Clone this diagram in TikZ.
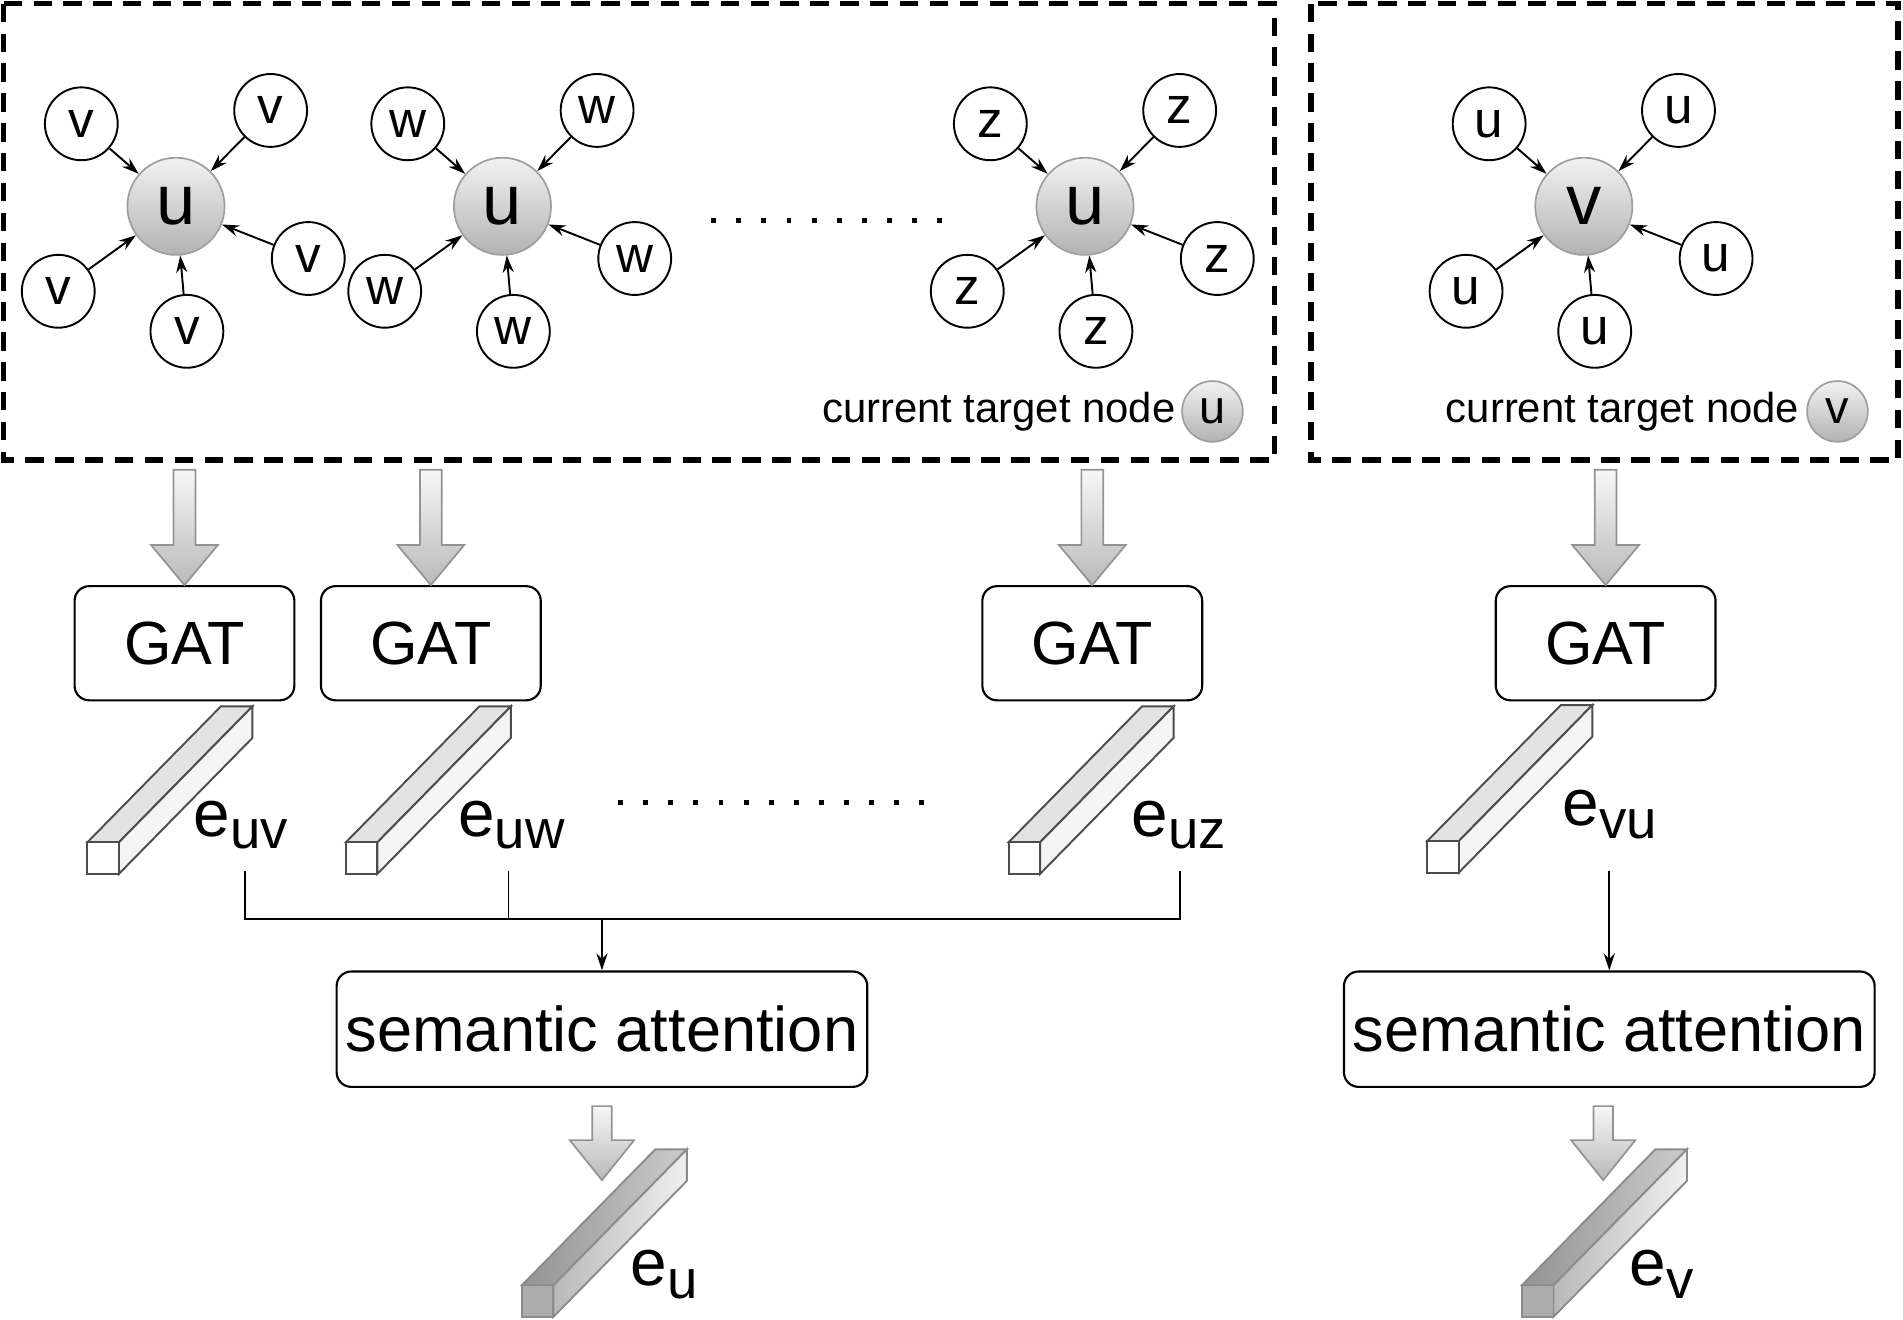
\documentclass[tikz,border=0pt]{standalone}
\usepackage{fontspec}
\setmainfont{Liberation Sans}
\usetikzlibrary{arrows.meta,calc,positioning}

% tailles de police
\newcommand{\taille}[1]{\fontsize{#1}{#1}\selectfont}
\newcommand{\esub}[1]{e\raisebox{-0.105cm}{\taille{12.8}#1}}

% voisinage : nom, x du centre, lettre du centre, lettre des voisins
\newcommand{\voisinage}[4]{%
    \node[cible] (#1) at (#2,170) {#3};
    \foreach \dx/\dy [count=\i] in {-78/-68, 78/-79, -97/70, 9/103, 109/43} {
        \node[voisin] (#1-\i) at ({#2+\dx},{170+\dy}) {#4};
        \draw[fleche, ->] (#1-\i) -- (#1);
    }%
}

% grosse fleche grise : pointe, longueur, demi-tige, demi-tete
\newcommand{\blocfleche}[4]{%
    \shade[bloc] ($(#1)+(-#3,-#2)$) -- ($(#1)+(#3,-#2)$) -- ($(#1)+(#3,-33)$)
        -- ($(#1)+(#4,-33)$) -- (#1) -- ($(#1)+(-#4,-33)$) -- ($(#1)+(-#3,-33)$) -- cycle;%
}

% barre d'embedding : x, y du coin avant, teinte
\newcommand{\embbar}[3]{%
    \path[#3 top] (#1,#2) -- ++(26,0) -- ++(110,-112) -- ++(-26,0) -- cycle;
    \path[#3 side] ({#1+26},#2) -- ++(0,26) -- ++(110,-112) -- ++(0,-26) -- cycle;
    \path[#3 front] (#1,#2) rectangle ++(26,26);%
}

\begin{document}
\begin{tikzpicture}[x=0.01cm, y=-0.01cm, >={Stealth[length=4pt, width=2.6pt]},
    zone/.style={draw, line width=1.3pt, dash pattern=on 4.3pt off 2.7pt},
    cible/.style={circle, draw=gray!75, top color=gray!10, bottom color=gray!60,
        minimum size=0.8cm, inner sep=0pt, font=\taille{16.5}},
    voisin/.style={circle, draw, line width=0.45pt, minimum size=0.6cm, inner sep=0pt, font=\taille{12}},
    fleche/.style={line width=0.45pt},
    boite/.style={draw, rounded corners=0.12cm, line width=0.5pt, inner sep=0pt},
    gat/.style={boite, minimum width=1.81cm, minimum height=0.94cm, font=\taille{14.3}},
    sem/.style={boite, minimum width=4.37cm, minimum height=0.95cm, font=\taille{14.8}},
    bloc/.style={draw=gray!85, line width=0.4pt, top color=gray!6, bottom color=gray!55},
    legende/.style={inner sep=0pt, font=\taille{9.8}},
    emb/.style={inner sep=0pt, anchor=base west, font=\taille{15.4}},
    light top/.style={draw=black!70, line width=0.45pt, fill=gray!22},
    light side/.style={draw=black!70, line width=0.45pt, fill=gray!8},
    light front/.style={draw=black!70, line width=0.45pt, fill=white},
    dark top/.style={draw=gray!90, line width=0.45pt, left color=gray!85, right color=gray!40},
    dark side/.style={draw=gray!90, line width=0.45pt, left color=gray!55, right color=gray!12},
    dark front/.style={draw=gray!90, line width=0.45pt, fill=gray!65},
    lien/.style={line width=0.45pt}]

    \useasboundingbox (0,0) rectangle (1568,1087);

    % Zones en pointilles
    \draw[zone] (3,3) rectangle (1050,379);
    \draw[zone] (1080,3) rectangle (1564,379);

    % Voisinages
    \voisinage{cu1}{145}{u}{v}
    \voisinage{cu2}{414}{u}{w}
    \voisinage{cu3}{894}{u}{z}
    \voisinage{cv}{1305}{v}{u}

    % Points de suspension
    \foreach \k in {0,...,9} \fill ({586+20.7*\k},180) rectangle ++(4,4);
    \foreach \k in {0,...,12} \fill ({509.4+20.67*\k},659) rectangle ++(4,4);

    % Legendes
    \node[cible, minimum size=0.5cm, font=\taille{11}] (cleU) at (999,339) {u};
    \node[legende, left=0.04cm of cleU] (legU) {current target node};
    \node[cible, minimum size=0.5cm, font=\taille{11}] (cleV) at (1514,339) {v};
    \node[legende, left=0.05cm of cleV] (legV) {current target node};

    % Boites GAT
    \node[gat] (gat1) at (152,530) {GAT};
    \node[gat] (gat2) at (355,530) {GAT};
    \node[gat] (gat3) at (900,530) {GAT};
    \node[gat] (gat4) at (1323,530) {GAT};

    % Fleches grises vers GAT
    \blocfleche{gat1.north}{95}{9}{27.5}
    \blocfleche{gat2.north}{95}{9}{27.5}
    \blocfleche{gat3.north}{95}{9}{27.5}
    \blocfleche{gat4.north}{95}{9}{27.5}

    % Embeddings par meta-chemin
    \embbar{72}{694}{light}
    \embbar{285}{694}{light}
    \embbar{831}{694}{light}
    \embbar{1176}{693}{light}
    \node[emb] (euv) at (159,689) {\esub{uv}};
    \node[emb] (euw) at (377,689) {\esub{uw}};
    \node[emb] (euz) at (932,689) {\esub{uz}};
    \node[emb] (evu) at (1287,680) {\esub{vu}};

    % Boites attention semantique
    \node[sem] (semU) at (496,848) {semantic attention};
    \node[sem] (semV) at (1326,848) {semantic attention};

    % Liens vers l'attention
    \coordinate (sortie-uv) at (202,718);
    \coordinate (sortie-uw) at (419,718);
    \coordinate (sortie-uz) at (972,718);
    \coordinate (jonction) at (496,757);
    \draw[lien] (sortie-uv) |- (jonction) -| (sortie-uz);
    \draw[lien] (sortie-uw) -- (sortie-uw |- jonction);
    \draw[lien, ->] (jonction) -- (semU.north);
    \coordinate (sortie-vu) at (1326,718);
    \draw[lien, ->] (sortie-vu) -- (semV.north);

    % Embeddings finaux
    \coordinate (versU) at ($(semU.south)+(0,76)$);
    \coordinate (versV) at ($(semV.south)+(-5,76)$);
    \blocfleche{versU}{61}{8}{26.5}
    \blocfleche{versV}{61}{8}{26.5}
    \embbar{430}{1059}{dark}
    \embbar{1254}{1059}{dark}
    \node[emb] (eu) at (519,1059) {\esub{u}};
    \node[emb] (ev) at (1342,1059) {\esub{v}};
\end{tikzpicture}
\end{document}
